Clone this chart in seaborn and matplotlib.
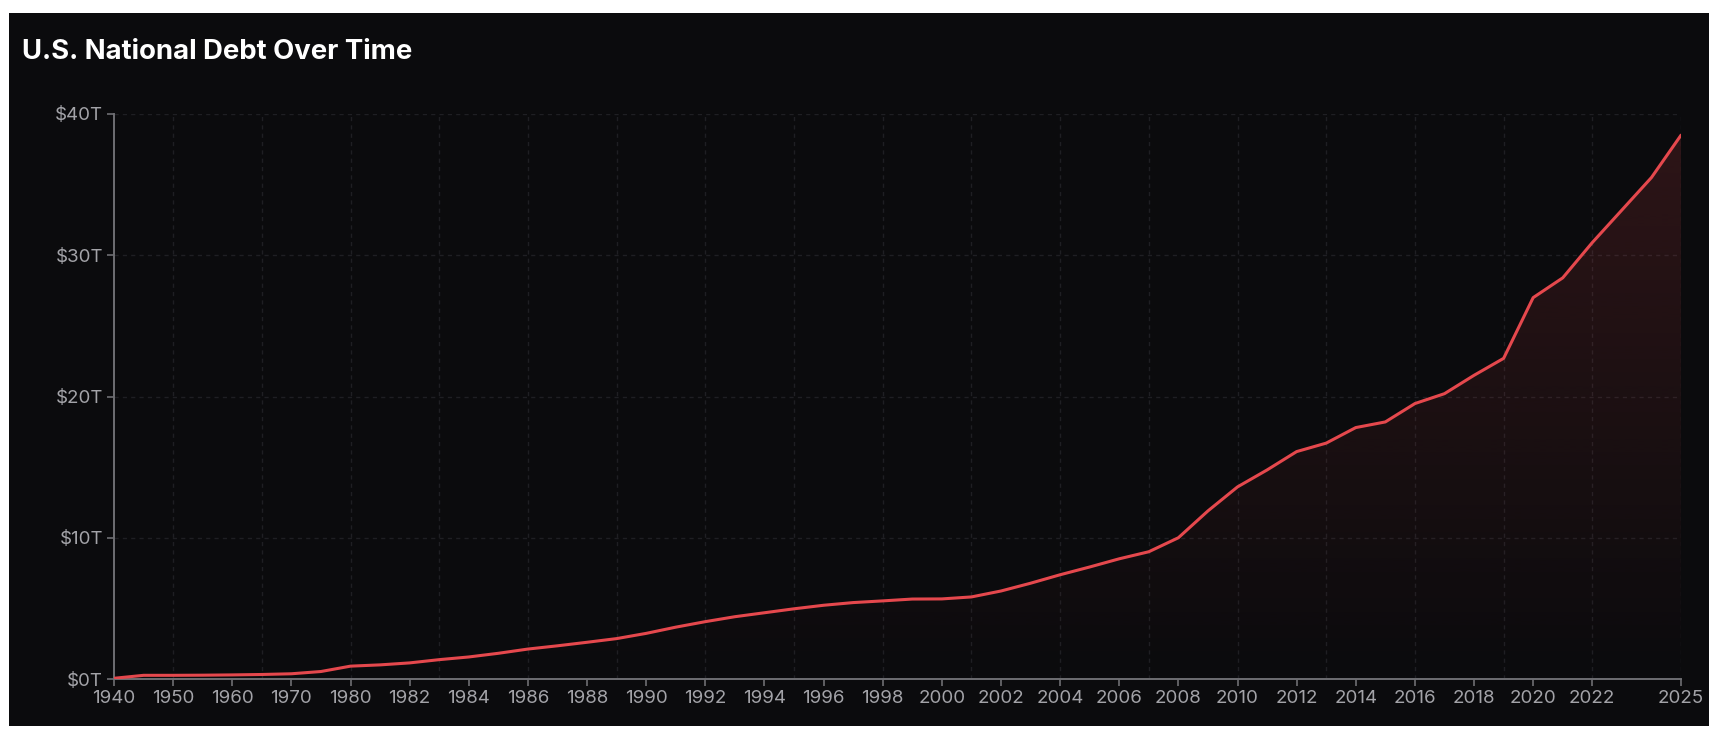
import numpy as np
import pandas as pd
import matplotlib
matplotlib.use('Agg')
import matplotlib.pyplot as plt
from matplotlib.patches import Rectangle
import seaborn as sns

# Years on the (categorical) x axis
years = [1940, 1945, 1950, 1955, 1960, 1965, 1970, 1975] + list(range(1980, 2026))

# National debt in trillions of dollars
debt = [0.05, 0.26, 0.26, 0.27, 0.29, 0.32, 0.37, 0.53,
        0.91, 1.00, 1.14, 1.37, 1.56, 1.82, 2.12, 2.35, 2.60, 2.86,
        3.23, 3.67, 4.06, 4.41, 4.69, 4.97, 5.22, 5.41, 5.53, 5.66,
        5.67, 5.81, 6.23, 6.78, 7.38, 7.93, 8.51, 9.01, 10.00, 11.90,
        13.60, 14.80, 16.10, 16.70, 17.80, 18.20, 19.50, 20.20, 21.50, 22.70,
        27.00, 28.40, 30.90, 33.20, 35.50, 38.50]

y_ticks = [0, 10, 20, 30, 40]
y_tick_labels = ["$0T", "$10T", "$20T", "$30T", "$40T"]

BG = "#0b0b0d"
RED = "#e5484d"
GRID = "#1f1f23"
AXIS = "#6e6e72"
TICK_TXT = "#a3a3a8"

df = pd.DataFrame({"year": years, "debt": debt})
df["pos"] = np.arange(len(df))

sns.set_theme(style="dark")
plt.rcParams["font.family"] = ["Inter", "DejaVu Sans"]

fig = plt.figure(figsize=(17.22, 7.36), dpi=100)
fig.patch.set_facecolor("white")
# dark card behind the chart
fig.patches.append(Rectangle((9 / 1722, 1 - 726 / 736), 1700 / 1722, 713 / 736,
                             transform=fig.transFigure, facecolor=BG,
                             edgecolor="none", zorder=-5))

ax = fig.add_axes([114 / 1722, 1 - 679 / 736, 1567 / 1722, 565 / 736])
ax.set_facecolor(BG)

# gradient fill under the line
n = len(df)
top = max(debt)
grad = np.linspace(0, 1, 256).reshape(-1, 1)
rgba = np.zeros((256, 1, 4))
rgba[..., :3] = matplotlib.colors.to_rgb(RED)
rgba[..., 3] = 0.16 * grad[:, 0:1]
img = ax.imshow(rgba, extent=(0, n - 1, 0, top), origin="lower",
                aspect="auto", zorder=1, interpolation="bilinear")
poly = ax.fill_between(df["pos"], df["debt"], 0, color="none", zorder=1)
img.set_clip_path(poly.get_paths()[0], transform=ax.transData)

sns.lineplot(data=df, x="pos", y="debt", color=RED, linewidth=2.2, ax=ax, zorder=3)

ax.set_xlim(0, n - 1)
ax.set_ylim(0, 40)

# grid lines
for v in y_ticks[1:]:
    ax.axhline(v, color=GRID, linewidth=1, dashes=(3, 3), zorder=0.5)
for p in range(2, n, 3):
    ax.axvline(p, color=GRID, linewidth=1, dashes=(3, 3), zorder=0.5)

# x ticks: every other category, last one forced
tick_pos = list(range(0, 51, 2)) + [n - 1]
ax.set_xticks(tick_pos)
ax.set_xticklabels([str(years[p]) for p in tick_pos])
ax.set_yticks(y_ticks)
ax.set_yticklabels(y_tick_labels)

ax.tick_params(axis="both", colors=AXIS, labelcolor=TICK_TXT, labelsize=13.5,
               length=5, width=1.2, direction="out", bottom=True, left=True)
ax.tick_params(axis="x", pad=3)
ax.tick_params(axis="y", pad=3)

for side in ["top", "right"]:
    ax.spines[side].set_visible(False)
for side in ["left", "bottom"]:
    ax.spines[side].set_color(AXIS)
    ax.spines[side].set_linewidth(1.4)

ax.set_xlabel("")
ax.set_ylabel("")
ax.grid(False)

fig.text(22 / 1722, 1 - 52 / 736, "U.S. National Debt Over Time", color="white",
         fontsize=19.8, fontweight="bold", va="center", ha="left")

fig.savefig("out.png", dpi=100, facecolor=fig.get_facecolor())
